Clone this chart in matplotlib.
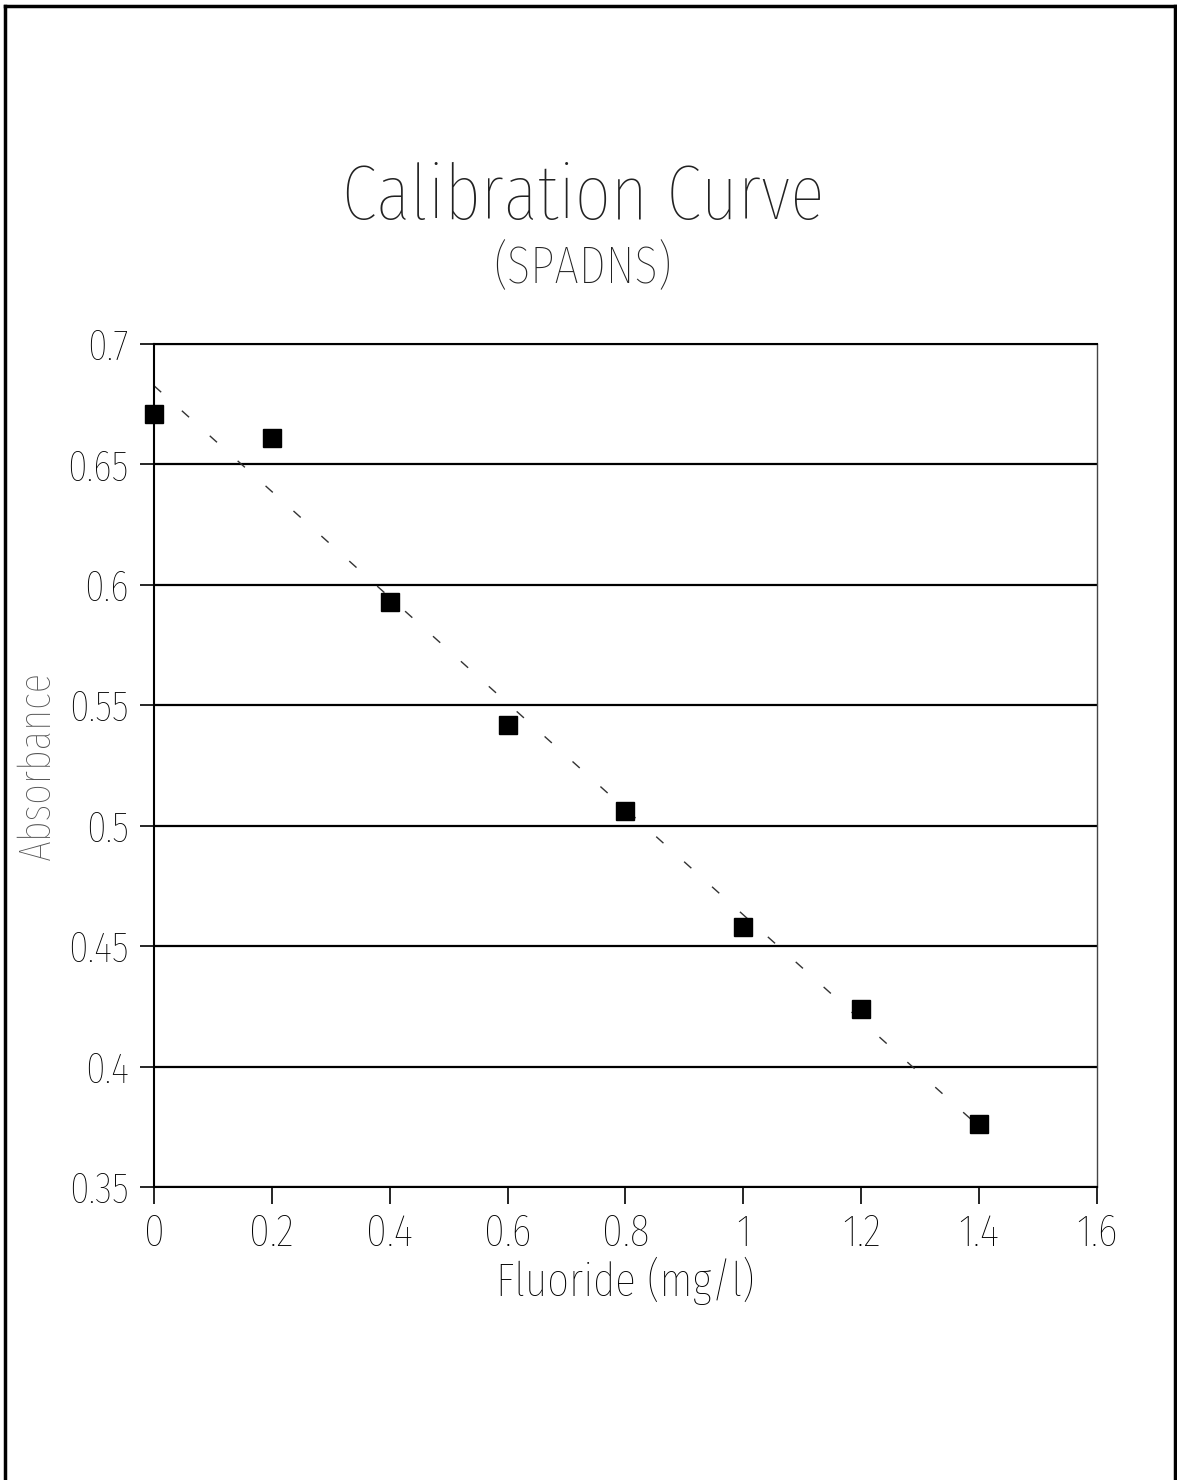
import numpy as np
import matplotlib
matplotlib.use("Agg")
import matplotlib.pyplot as plt
from matplotlib.lines import Line2D

plt.rcParams["font.family"] = ["Fira Sans Extra Condensed", "DejaVu Sans"]
plt.rcParams["font.weight"] = "light"
plt.rcParams["axes.labelweight"] = "light"

# Calibration data
fluoride = [0.0, 0.2, 0.4, 0.6, 0.8, 1.0, 1.2, 1.4]
absorbance = [0.671, 0.661, 0.593, 0.542, 0.506, 0.458, 0.424, 0.376]
x_ticks = [0, 0.2, 0.4, 0.6, 0.8, 1.0, 1.2, 1.4, 1.6]
x_tick_labels = ["0", "0.2", "0.4", "0.6", "0.8", "1", "1.2", "1.4", "1.6"]
y_ticks = [0.35, 0.4, 0.45, 0.5, 0.55, 0.6, 0.65, 0.7]
y_tick_labels = ["0.35", "0.4", "0.45", "0.5", "0.55", "0.6", "0.65", "0.7"]

fig = plt.figure(figsize=(11.77, 14.8), dpi=100)
ax = fig.add_axes([0.1308, 0.198, 0.8012, 0.5696])

# Horizontal grid lines
for yv in y_ticks:
    ax.axhline(yv, color="black", linewidth=1.6, zorder=1)

# Linear fit trend line (dashed, faint)
coef = np.polyfit(fluoride, absorbance, 1)
trend = np.poly1d(coef)
xs = np.array([min(fluoride), max(fluoride)])
ax.plot(xs, trend(xs), color="#333333", linewidth=1.0,
        linestyle=(0, (7, 20)), zorder=2)

# Data points
ax.plot(fluoride, absorbance, linestyle="none", marker="s",
        markersize=13, color="black", zorder=3, clip_on=False)

ax.set_xlim(0, 1.6)
ax.set_ylim(0.35, 0.7)
ax.set_xticks(x_ticks)
ax.set_xticklabels(x_tick_labels)
ax.set_yticks(y_ticks)
ax.set_yticklabels(y_tick_labels)
ax.tick_params(axis="x", direction="out", length=12, width=1.2,
               labelsize=33, pad=6)
ax.tick_params(axis="y", direction="out", length=10, width=1.2,
               labelsize=31, pad=8)

for side in ["left", "bottom", "top"]:
    ax.spines[side].set_linewidth(1.5)
ax.spines["right"].set_linewidth(1.0)
ax.spines["right"].set_color("#444444")

ax.set_xlabel("Fluoride (mg/l)", fontsize=34, labelpad=2)
ax.set_ylabel("Absorbance", fontsize=32, color="#555555")
ax.yaxis.set_label_coords(-0.102, 0.5)

# Titles
fig.text(583 / 1177, 1 - 198 / 1480, "Calibration Curve", fontsize=56,
         ha="center", va="center", color="#222222")
fig.text(583 / 1177, 1 - 268 / 1480, "(SPADNS)", fontsize=38,
         ha="center", va="center", color="#222222")

# Page border (left, top, right)
fig.add_artist(Line2D([5 / 1177, 5 / 1177], [0, 1 - 6 / 1480],
                      transform=fig.transFigure, color="black", linewidth=2.5))
fig.add_artist(Line2D([5 / 1177, 1176 / 1177], [1 - 6 / 1480, 1 - 6 / 1480],
                      transform=fig.transFigure, color="black", linewidth=2.5))
fig.add_artist(Line2D([1175 / 1177, 1175 / 1177], [0, 1 - 6 / 1480],
                      transform=fig.transFigure, color="black", linewidth=2.5))

fig.savefig("out.png", dpi=100, facecolor="white")
